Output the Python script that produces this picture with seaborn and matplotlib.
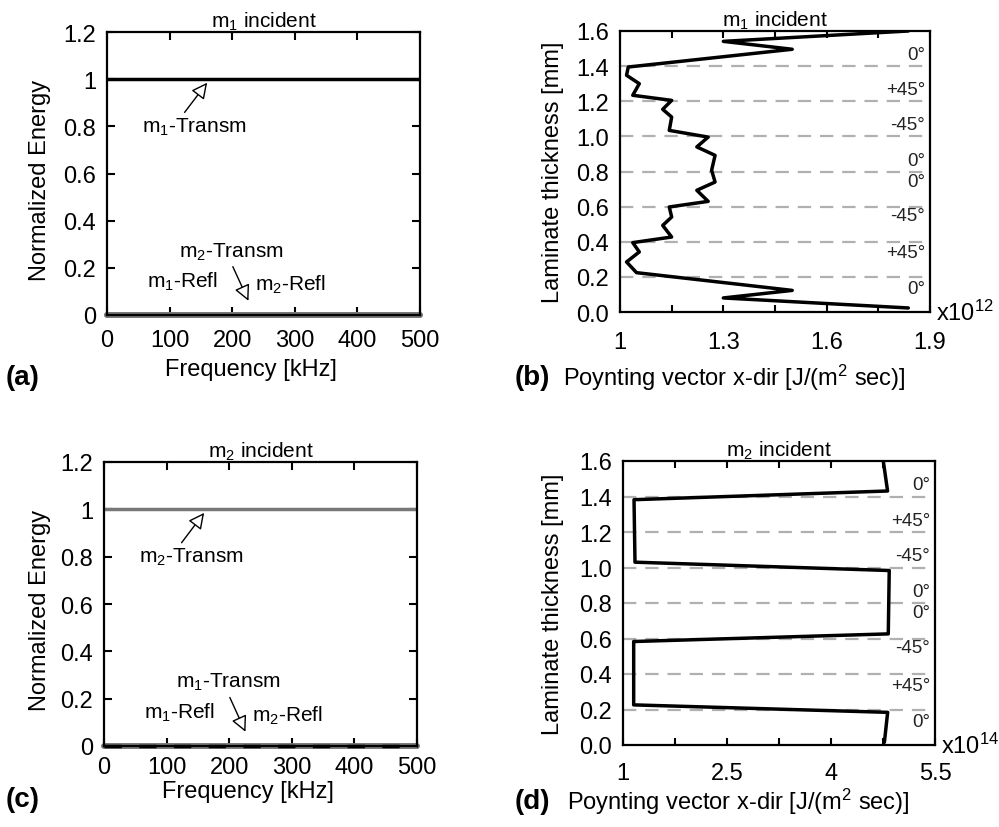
import numpy as np
import pandas as pd
import matplotlib
matplotlib.use("Agg")
import matplotlib.pyplot as plt
import seaborn as sns
from matplotlib.ticker import FixedLocator, FixedFormatter

sns.set_theme(style="ticks")
plt.rcParams['font.family'] = ['Liberation Sans', 'DejaVu Sans']
plt.rcParams['mathtext.default'] = 'regular'
plt.rcParams['xtick.direction'] = 'in'
plt.rcParams['ytick.direction'] = 'in'
plt.rcParams['xtick.top'] = True
plt.rcParams['ytick.right'] = True
plt.rcParams['text.color'] = 'black'
plt.rcParams['axes.labelcolor'] = 'black'
plt.rcParams['xtick.color'] = 'black'
plt.rcParams['ytick.color'] = 'black'

# ---------------- data ----------------
freq = [0, 500]
# panel (a): m1 incident
a_m1_transm = [1.0, 1.0]
a_m1_refl = [0.0, 0.0]
a_m2_transm = [0.0, 0.0]
a_m2_refl = [0.0, 0.0]
# panel (c): m2 incident
c_m2_transm = [1.0, 1.0]
c_m1_refl = [0.0, 0.0]
c_m1_transm = [0.0, 0.0]
c_m2_refl = [0.0, 0.0]

# panel (b): Poynting vector profile (x10^12), m1 incident
b_thick = [1.600, 1.541, 1.496, 1.395, 1.348, 1.300, 1.234, 1.205, 1.154, 1.110,
           1.034, 0.996, 0.940, 0.892, 0.807, 0.740, 0.693, 0.630, 0.598, 0.541,
           0.493, 0.427, 0.395, 0.342, 0.285, 0.224, 0.123, 0.080, 0.023]
b_poynt = [1.837, 1.300, 1.500, 1.024, 1.019, 1.056, 1.037, 1.150, 1.124, 1.150,
           1.143, 1.256, 1.223, 1.276, 1.266, 1.276, 1.223, 1.256, 1.143, 1.150,
           1.124, 1.150, 1.037, 1.056, 1.019, 1.048, 1.500, 1.300, 1.837]

# panel (d): Poynting vector profile (x10^14), m2 incident
d_thick = [1.600, 1.431, 1.382, 1.030, 0.983, 0.626, 0.583, 0.226, 0.184, 0.015]
d_poynt = [4.754, 4.816, 1.159, 1.173, 4.840, 4.826, 1.154, 1.154, 4.817, 4.770]

ply_labels = ["0°", "+45°", "-45°", "0°", "0°", "-45°", "+45°", "0°"]
ply_label_pos = [1.465, 1.265, 1.065, 0.865, 0.745, 0.550, 0.338, 0.133]
ply_bounds = [0.2, 0.4, 0.6, 0.8, 1.0, 1.2, 1.4]

# ---------------- figure ----------------
W, H = 999, 828
fig = plt.figure(figsize=(W / 100, H / 100), dpi=100)

def ax_px(l, r, t, b):
    return fig.add_axes([l / W, 1 - b / H, (r - l) / W, (b - t) / H])

axA = ax_px(107, 420, 33, 316)
axB = ax_px(620, 930, 32, 313)
axC = ax_px(104, 417, 463, 747)
axD = ax_px(623, 935, 462, 746)

TICK = 17
LAB = 17
ANN = 15
GRAY = "#777777"

def style(ax):
    for s in ax.spines.values():
        s.set_linewidth(1.6)
        s.set_color("black")
    ax.tick_params(axis="both", which="both", length=6, width=1.5,
                   labelsize=TICK, colors="black", pad=7)
    ax.set_facecolor("white")

arrow_kw = dict(arrowstyle="-|>", fc="white", ec="black", lw=1.0,
                mutation_scale=24, shrinkA=0, shrinkB=0)

# ---- (a) ----
sns.lineplot(x=freq, y=a_m1_refl, ax=axA, color=GRAY, lw=4, clip_on=False)
sns.lineplot(x=freq, y=a_m2_transm, ax=axA, color=GRAY, lw=4, clip_on=False)
sns.lineplot(x=freq, y=a_m2_refl, ax=axA, color=GRAY, lw=4, clip_on=False)
sns.lineplot(x=freq, y=a_m1_transm, ax=axA, color="black", lw=2.5)

# ---- (c) ----
sns.lineplot(x=freq, y=c_m1_refl, ax=axC, color=GRAY, lw=4, clip_on=False)
sns.lineplot(x=freq, y=c_m2_refl, ax=axC, color=GRAY, lw=4, clip_on=False)
sns.lineplot(x=freq, y=c_m1_transm, ax=axC, color="black", lw=2.5,
             clip_on=False).lines[-1].set_dashes([5, 5])
sns.lineplot(x=freq, y=c_m2_transm, ax=axC, color=GRAY, lw=2.5)

for ax, title, top, bot, lx, ly, yx, xpad in [
        (axA, "m$_1$ incident", "m$_1$-Transm", "m$_2$-Transm", 0.46, -0.192, -0.214, 10),
        (axC, "m$_2$ incident", "m$_2$-Transm", "m$_1$-Transm", 0.46, -0.160, -0.204, 7)]:
    style(ax)
    ax.set_xlim(0, 500)
    ax.set_ylim(0, 1.2)
    ax.xaxis.set_major_locator(FixedLocator([0, 100, 200, 300, 400, 500]))
    yt = [0, 0.2, 0.4, 0.6, 0.8, 1.0, 1.2]
    ax.yaxis.set_major_locator(FixedLocator(yt))
    ax.yaxis.set_major_formatter(FixedFormatter(["0", "0.2", "0.4", "0.6", "0.8", "1", "1.2"]))
    ax.tick_params(axis="x", pad=xpad)
    ax.tick_params(axis="y", pad=8)
    ax.set_xlabel("Frequency [kHz]", fontsize=LAB, va="center")
    ax.xaxis.set_label_coords(lx, ly)
    ax.set_ylabel("Normalized Energy", fontsize=LAB, va="center")
    ax.yaxis.set_label_coords(yx, 0.48)
    ax.set_title(title, fontsize=15, pad=3, color="black")
    ax.annotate(top, xy=(160, 0.985), xytext=(140, 0.80), fontsize=ANN,
                ha="center", va="center",
                arrowprops=dict(arrow_kw, relpos=(0.38, 1.0)))
    ax.annotate("", xy=(226, 0.06), xytext=(201, 0.205),
                arrowprops=arrow_kw)
    ax.text(199, 0.272, bot, fontsize=ANN, ha="center", va="center")
    ax.text(120, 0.145, "m$_1$-Refl", fontsize=ANN, ha="center", va="center")
    ax.text(237, 0.132, "m$_2$-Refl", fontsize=ANN, ha="left", va="center")

# ---- (b) and (d) ----
dfB = pd.DataFrame({"thick": b_thick, "poynt": b_poynt})
dfD = pd.DataFrame({"thick": d_thick, "poynt": d_poynt})

for ax, df, xlim, xt, xlabs, exp, title, lx, ly, yx, xpad in [
        (axB, dfB, (1, 1.9), [1, 1.15, 1.3, 1.45, 1.6, 1.75, 1.9],
         ["1", "", "1.3", "", "1.6", "", "1.9"], "x10$^{12}$", "m$_1$ incident",
         0.37, -0.231, -0.216, 14),
        (axD, dfD, (1, 5.5), [1, 1.75, 2.5, 3.25, 4, 4.75, 5.5],
         ["1", "", "2.5", "", "4", "", "5.5"], "x10$^{14}$", "m$_2$ incident",
         0.37, -0.197, -0.224, 12)]:
    for yb in ply_bounds:
        ax.axhline(yb, color="#b0b0b0", lw=1.6, dashes=(6, 4), zorder=1)
    sns.lineplot(data=df, x="poynt", y="thick", sort=False, estimator=None,
                 orient="y", ax=ax, color="black", lw=2.5, zorder=3)
    style(ax)
    ax.set_xlim(*xlim)
    ax.set_ylim(0, 1.6)
    ax.xaxis.set_major_locator(FixedLocator(xt))
    ax.xaxis.set_major_formatter(FixedFormatter(xlabs))
    yt = [0, 0.2, 0.4, 0.6, 0.8, 1.0, 1.2, 1.4, 1.6]
    ax.yaxis.set_major_locator(FixedLocator(yt))
    ax.yaxis.set_major_formatter(FixedFormatter([f"{v:.1f}" for v in yt]))
    ax.tick_params(axis="y", length=0, pad=8)
    ax.tick_params(axis="x", length=5, pad=xpad)
    ax.set_xlabel("Poynting vector x-dir [J/(m$^2$ sec)]", fontsize=LAB, va="center")
    ax.xaxis.set_label_coords(lx, ly)
    ax.set_ylabel("Laminate thickness [mm]", fontsize=LAB, va="center")
    ax.yaxis.set_label_coords(yx, 0.5)
    ax.set_title(title, fontsize=15, pad=3, color="black")
    for lab, yp in zip(ply_labels, ply_label_pos):
        ax.text(0.985, yp, lab, transform=ax.get_yaxis_transform(),
                ha="right", va="center", fontsize=13.5, color="#222222", zorder=4)
    ax.text(1.02, 0.0, exp, transform=ax.transAxes, ha="left", va="center",
            fontsize=LAB)

# panel letters
for lab, x, y in [("(a)", 6, 378), ("(b)", 515, 378), ("(c)", 6, 800), ("(d)", 515, 802)]:
    fig.text(x / W, 1 - y / H, lab, fontsize=20, fontweight="bold",
             ha="left", va="center")

fig.savefig("out.png", dpi=100, facecolor="white")
